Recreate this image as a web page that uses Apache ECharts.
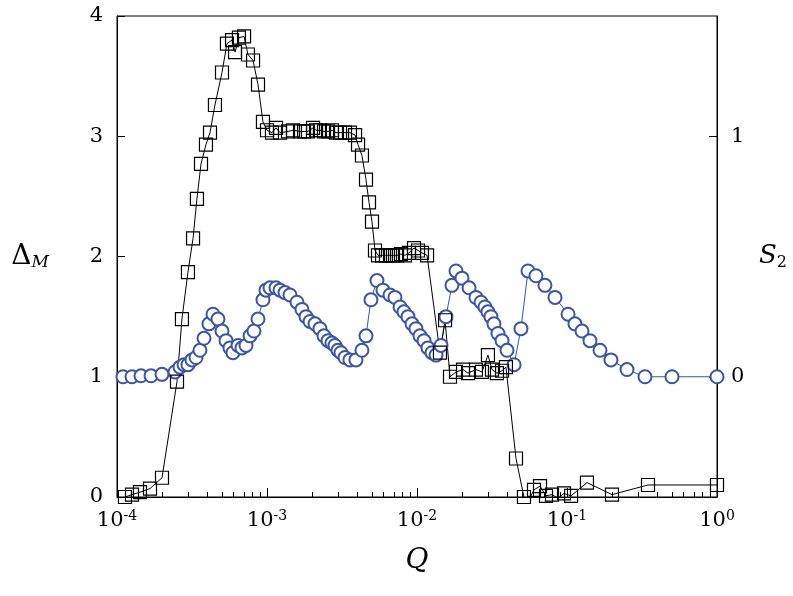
<!DOCTYPE html>
<html>
<head>
<meta charset="utf-8">
<script src="https://cdn.jsdelivr.net/npm/echarts@6/dist/echarts.min.js"></script>
<style>html,body{margin:0;padding:0;background:#fff}#chart{width:793px;height:596px}</style>
</head>
<body>
<div id="chart"></div>
<script>
// log10(Q) and Delta_M for the squares
const sqLogQ = [-3.947,-3.9,-3.847,-3.78,-3.7,-3.6,-3.567,-3.527,-3.493,-3.467,-3.44,-3.407,-3.38,-3.347,-3.3,-3.267,-3.233,-3.213,-3.187,-3.153,-3.127,-3.093,-3.06,-3.027,-3.0,-2.967,-2.94,-2.913,-2.86,-2.827,-2.78,-2.753,-2.727,-2.693,-2.673,-2.647,-2.62,-2.593,-2.567,-2.54,-2.513,-2.48,-2.447,-2.413,-2.393,-2.367,-2.34,-2.32,-2.3,-2.28,-2.26,-2.233,-2.207,-2.18,-2.16,-2.133,-2.107,-2.08,-2.053,-2.02,-1.993,-1.967,-1.933,-1.847,-1.813,-1.78,-1.74,-1.693,-1.66,-1.607,-1.567,-1.527,-1.5,-1.467,-1.433,-1.407,-1.34,-1.287,-1.253,-1.22,-1.18,-1.14,-1.1,-1.06,-1.02,-0.973,-0.867,-0.7,-0.46,0];
const deltaM = [0.0,0.02,0.04,0.07,0.16,0.96,1.48,1.87,2.15,2.48,2.77,2.93,3.03,3.26,3.53,3.77,3.80,3.70,3.82,3.83,3.68,3.63,3.43,3.12,3.05,3.03,3.07,3.03,3.04,3.05,3.04,3.04,3.04,3.07,3.05,3.05,3.04,3.04,3.05,3.03,3.03,3.03,3.03,3.01,2.93,2.84,2.64,2.45,2.29,2.05,2.01,2.01,2.01,2.01,2.01,2.01,2.02,2.01,2.03,2.07,2.05,2.03,2.01,1.20,1.47,1.0,1.04,1.06,1.03,1.06,1.04,1.18,1.06,1.03,1.05,1.08,0.32,0.0,-0.02,0.06,0.09,0.01,0.02,-0.01,0.03,0.01,0.12,0.02,0.10,0.10];
// log10(Q) and S_2 for the circles
const ciLogQ = [-3.96,-3.9,-3.84,-3.773,-3.7,-3.613,-3.58,-3.553,-3.527,-3.5,-3.473,-3.447,-3.42,-3.387,-3.36,-3.327,-3.3,-3.273,-3.247,-3.227,-3.193,-3.167,-3.14,-3.113,-3.087,-3.06,-3.027,-3.007,-2.98,-2.94,-2.913,-2.88,-2.847,-2.8,-2.767,-2.74,-2.713,-2.68,-2.647,-2.62,-2.593,-2.567,-2.547,-2.527,-2.507,-2.48,-2.447,-2.407,-2.367,-2.34,-2.307,-2.267,-2.227,-2.18,-2.147,-2.113,-2.087,-2.06,-2.033,-2.007,-1.98,-1.953,-1.927,-1.9,-1.873,-1.84,-1.807,-1.767,-1.74,-1.7,-1.653,-1.607,-1.573,-1.547,-1.527,-1.507,-1.487,-1.46,-1.433,-1.4,-1.353,-1.307,-1.26,-1.207,-1.147,-1.08,-0.993,-0.947,-0.9,-0.847,-0.78,-0.707,-0.6,-0.48,-0.3,0];
const s2 = [0,0,0.004,0.004,0.01,0.02,0.04,0.05,0.05,0.07,0.08,0.11,0.16,0.22,0.26,0.24,0.19,0.15,0.12,0.10,0.13,0.12,0.13,0.17,0.19,0.24,0.32,0.36,0.37,0.37,0.36,0.35,0.34,0.31,0.28,0.25,0.23,0.22,0.20,0.17,0.15,0.14,0.13,0.11,0.10,0.08,0.07,0.07,0.11,0.17,0.32,0.40,0.36,0.34,0.33,0.29,0.27,0.25,0.22,0.20,0.17,0.15,0.12,0.10,0.09,0.13,0.25,0.38,0.44,0.41,0.37,0.33,0.31,0.29,0.27,0.25,0.22,0.18,0.15,0.11,0.05,0.20,0.44,0.42,0.38,0.33,0.26,0.22,0.19,0.15,0.11,0.07,0.03,0,0,0];
const xTicks = [-4,-3,-2,-1,0];
const leftTicks = [0,1,2,3,4];
const rightTicks = [0,1];

const serif = '"DejaVu Serif","Liberation Serif",serif';
const sup = n => '{b|10}{s|' + n + '}';
const chart = echarts.init(document.getElementById('chart'));
chart.setOption({
  animation: false,
  grid: {left: 117, right: 76, top: 16, bottom: 99, show: true, borderColor: '#000', borderWidth: 1},
  xAxis: {
    type: 'log', logBase: 10, min: 1e-4, max: 1,
    axisLine: {lineStyle: {color: '#000'}},
    axisTick: {inside: true, length: 9, lineStyle: {color: '#000'}},
    minorTick: {show: true, splitNumber: 9, length: 5, lineStyle: {color: '#000'}},
    splitLine: {show: false},
    axisLabel: {
      margin: 12,
      formatter: v => sup(Math.round(Math.log10(v))),
      rich: {b: {fontFamily: serif, fontSize: 21, color: '#000'},
             s: {fontFamily: serif, fontSize: 14, color: '#000', verticalAlign: 'top', padding: [0, 0, 10, 0]}}
    },
    name: 'Q', nameLocation: 'middle', nameGap: 50,
    nameTextStyle: {fontFamily: serif, fontStyle: 'italic', fontSize: 28, color: '#000'}
  },
  yAxis: [{
    type: 'value', min: 0, max: 4, interval: 1,
    axisLine: {lineStyle: {color: '#000'}},
    axisTick: {inside: true, length: 8, lineStyle: {color: '#000'}},
    splitLine: {show: false},
    axisLabel: {margin: 14, fontFamily: serif, fontSize: 21, color: '#000',
      customValues: leftTicks},
    name: '{d|Δ}{m|M}', nameLocation: 'middle', nameGap: 68, nameRotate: 0,
    nameTextStyle: {rich: {d: {fontFamily: serif, fontSize: 28, color: '#000'},
      m: {fontFamily: serif, fontStyle: 'italic', fontSize: 17, color: '#000', verticalAlign: 'bottom', padding: [12, 0, 0, 0]}}}
  }, {
    type: 'value', min: -0.5, max: 1.5, position: 'right',
    axisLine: {show: true, lineStyle: {color: '#000'}},
    axisTick: {inside: true, length: 8, lineStyle: {color: '#000'}, customValues: rightTicks},
    splitLine: {show: false},
    axisLabel: {margin: 14, fontFamily: serif, fontSize: 21, color: '#000', customValues: rightTicks},
    name: '{s|S}{n|2}', nameLocation: 'middle', nameGap: 42, nameRotate: 0,
    nameTextStyle: {rich: {s: {fontFamily: serif, fontStyle: 'italic', fontSize: 26, color: '#000'},
      n: {fontFamily: serif, fontSize: 16, color: '#000', verticalAlign: 'bottom', padding: [12, 0, 0, 0]}}}
  }],
  series: [{
    type: 'line', yAxisIndex: 1,
    data: ciLogQ.map((e, i) => [Math.pow(10, e), s2[i]]),
    symbol: 'emptyCircle', symbolSize: 13, showAllSymbol: true,
    lineStyle: {color: '#3a56a8', width: 1},
    itemStyle: {color: '#3a56a8', borderWidth: 1}
  }, {
    type: 'line', yAxisIndex: 0,
    data: sqLogQ.map((e, i) => [Math.pow(10, e), deltaM[i]]),
    symbol: 'rect', symbolSize: 13, showAllSymbol: true,
    lineStyle: {color: '#000', width: 1},
    itemStyle: {color: 'rgba(0,0,0,0)', borderColor: '#000', borderWidth: 1.2}
  }]
});
</script>
</body>
</html>
